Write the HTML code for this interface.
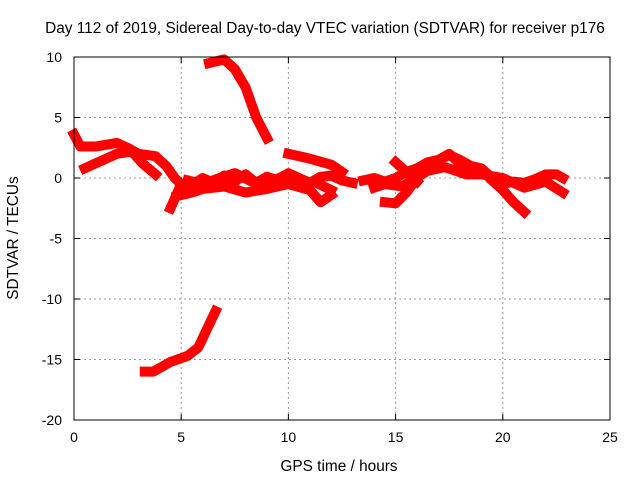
<!DOCTYPE html>
<html><head><meta charset="utf-8"><style>
body{margin:0;background:#fff;}
svg{display:block;font-family:"Liberation Sans",sans-serif;font-size:14px;}
.big{font-size:15.4px;}
</style></head><body>
<svg id="chart" width="640" height="480">
<text class="big" x="325" y="33" text-anchor="middle">Day 112 of 2019, Sidereal Day-to-day VTEC variation (SDTVAR) for receiver p176</text>
<g id="grid"></g><g id="marks"></g><g id="axes"></g>
<text class="big" x="339" y="471" text-anchor="middle">GPS time / hours</text>
<text class="big" transform="translate(18,238) rotate(-90)" text-anchor="middle">SDTVAR / TECUs</text>
</svg>
<script>
const xTicks=[0,5,10,15,20,25];
const yTicks=[10,5,0,-5,-10,-15,-20];
const s1=[[0,3.6],[0.3,2.6],[1,2.6],[2,2.9],[2.5,2.5],[3,2],[3.8,1.8],[4.3,1],[4.7,0],[5,-0.5]];
const s2=[[0.5,0.8],[1,1.2],[2,2],[2.7,2.2],[3.2,1.2],[3.8,0.3]];
const s3=[[4.5,-2.5],[5,-0.5],[5.5,-0.6],[6,0],[6.5,-0.4],[7,0.2],[7.5,-0.3],[8,0.3],[8.5,-0.4],[9,0.1],[9.5,-0.2],[10,0.4],[10.5,0],[11,-0.4],[11.5,0.1],[12,0.2],[12.5,-0.2],[13,-0.4]];
const s3b=[[4.8,-1.5],[5.5,-1.2],[6,-0.9],[7,-0.7],[8,-1.2],[9,-0.9],[10,-0.5],[11,-1],[11.5,-2],[12,-1.4]];
const s3c=[[5.3,-0.2],[6,-0.5],[6.8,0],[7.5,0.4],[8.3,-0.3],[9,-0.5],[9.8,0.2],[10.5,-0.6],[11.2,-0.3],[12,-1]];
const s4=[[10,2],[11,1.6],[12,1.1],[12.5,0.5]];
const s5=[[6.3,9.5],[7,9.8],[7.5,9],[8,7.5],[8.5,5],[9,3.3]];
const s6=[[3.3,-16],[3.7,-16],[4.5,-15.2],[5.3,-14.7],[5.8,-14],[6.2,-12.5],[6.6,-11]];
const s7=[[13.5,-0.2],[14,0],[14.5,-0.3],[15,0],[15.5,0.5],[16,0.8],[16.5,1.3],[17,1.5],[17.5,1.9],[18,1.5],[18.5,1],[19,0.8],[19.5,0],[20,-0.5],[20.5,-0.3],[21,-0.4],[21.5,-0.1],[22,0.3],[22.5,0.3],[22.8,0]];
const s7b=[[14,-0.8],[14.5,-0.5],[15.3,-0.7],[16.5,0.6],[17.3,0.9],[18.3,0.3],[19,0.3],[20,0],[21,-0.8],[22,-0.3],[22.8,-1.2]];
const s8=[[14.5,-2],[15,-2.1],[15.5,-1.2],[16,0],[16.5,1],[17,1.5],[17.5,2],[18,1.2],[18.5,0.7]];
const s9=[[19.5,-0.2],[20,-1],[20.5,-2],[21,-2.8]];
const s10=[[15,1.3],[15.5,0.5],[16,-0.3]];
const series=[s1,s2,s3,s3b,s3c,s4,s5,s6,s7,s7b,s8,s9,s10];
const px=x=>74+x*(536/25), py=v=>57+(10-v)*(363/30);
const NS='http://www.w3.org/2000/svg';
function mk(t,a,p){const e=document.createElementNS(NS,t);for(const k in a)e.setAttribute(k,a[k]);p.appendChild(e);return e;}
const grid=document.getElementById('grid'),axes=document.getElementById('axes'),marks=document.getElementById('marks');
xTicks.forEach(t=>{
 if(t>0&&t<25){const l=mk('line',{x1:px(t),x2:px(t),y1:57,y2:420,stroke:'#999','stroke-dasharray':'2,3'},grid);
 
 }
 const tx=mk('text',{x:px(t),y:442,'text-anchor':'middle'},axes);tx.textContent=t;
 
 
 mk('line',{x1:px(t),x2:px(t),y1:420,y2:414,stroke:'#000'},axes);mk('line',{x1:px(t),x2:px(t),y1:57,y2:63,stroke:'#000'},axes);
});
yTicks.forEach(t=>{
 if(t>-20&&t<10){const l=mk('line',{x1:74,x2:610,y1:py(t),y2:py(t),stroke:'#999','stroke-dasharray':'2,3'},grid);
 
 }
 const tx=mk('text',{x:62,y:py(t)+5,'text-anchor':'end'},axes);tx.textContent=t;
 
 
 mk('line',{x1:74,x2:80,y1:py(t),y2:py(t),stroke:'#000'},axes);mk('line',{x1:604,x2:610,y1:py(t),y2:py(t),stroke:'#000'},axes);
});
const fr=mk('rect',{x:74,y:57,width:536,height:363,fill:'none',stroke:'#000'},axes);


series.forEach(s=>{
 const p=mk('polyline',{points:s.map(d=>px(d[0])+','+py(d[1])).join(' '),fill:'none',stroke:'#f00','stroke-width':10,'stroke-linejoin':'round','stroke-linecap':'square'},marks);
 
 
});
</script>
</body></html>
